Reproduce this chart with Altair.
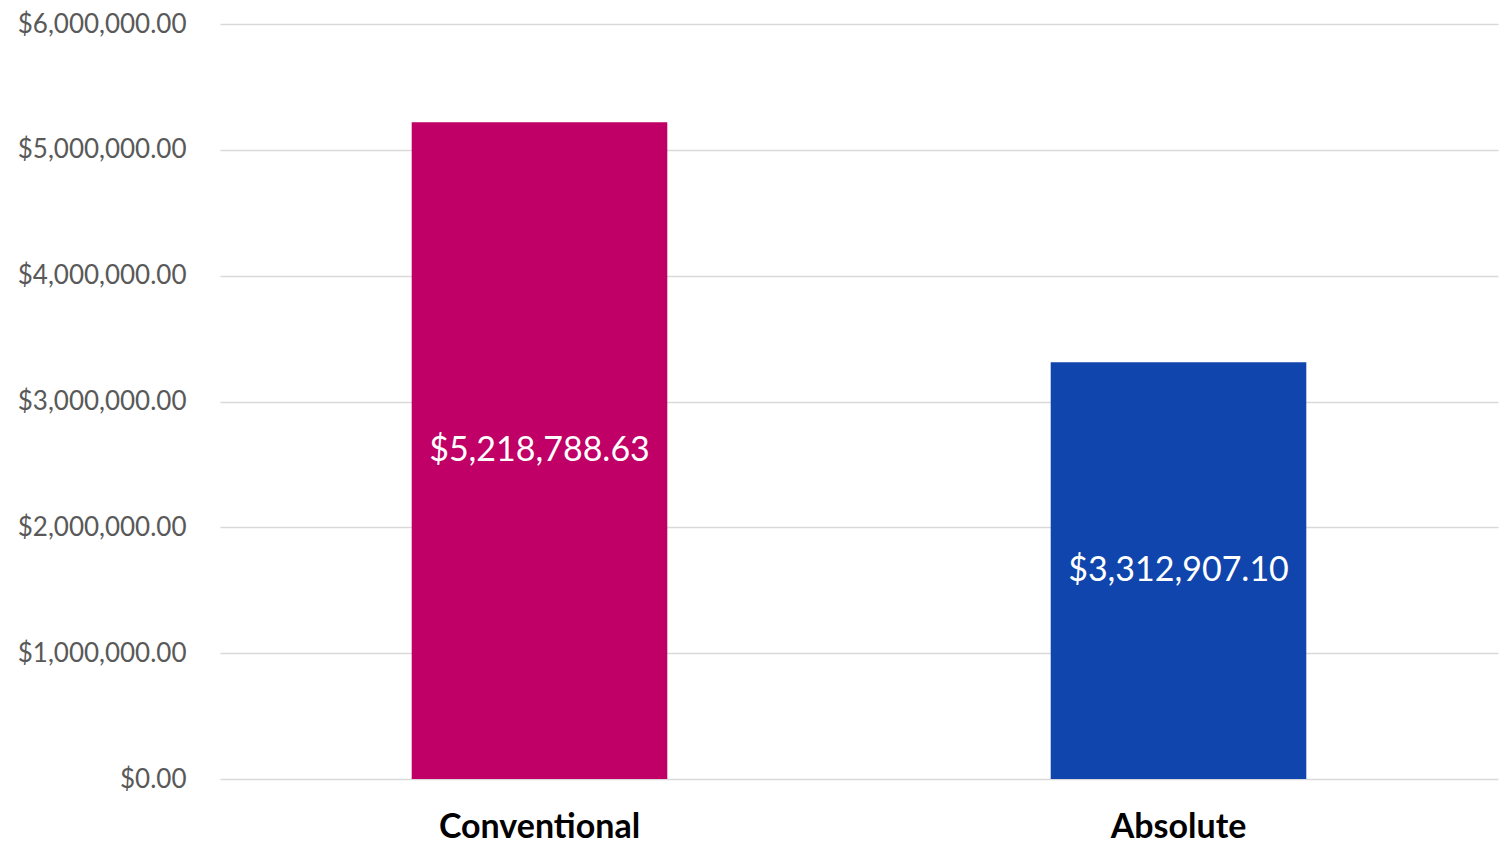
import altair as alt
import pandas as pd

categories = ["Conventional", "Absolute"]
values = [5218788.63, 3312907.10]
colors = ["#C00066", "#0F45AD"]

df = pd.DataFrame({"cat": categories, "value": values, "color": colors})
df["label"] = df["value"].map(lambda v: "${:,.2f}".format(v))

FONT = "Lato"

base = alt.Chart(df).encode(
    x=alt.X("cat:N", sort=categories, title=None,
            scale=alt.Scale(paddingInner=0.6, paddingOuter=0.3),
            axis=alt.Axis(labelFont=FONT, labelFontSize=34, labelFontWeight="bold",
                          labelColor="#000000", labelAngle=0, domain=False, ticks=False,
                          labelPadding=31, labelLimit=0)),
)

bars = base.mark_bar().encode(
    y=alt.Y("value:Q", title=None,
            scale=alt.Scale(domain=[0, 6000000], nice=False),
            axis=alt.Axis(values=[0, 1000000, 2000000, 3000000, 4000000, 5000000, 6000000],
                          format="$,.2f", labelFont=FONT, labelFontSize=26,
                          labelColor="#595959", domain=False, ticks=False,
                          labelPadding=34, gridColor="#D9D9D9", gridWidth=1.5)),
    color=alt.Color("color:N", scale=None),
)

text = base.mark_text(font=FONT, fontSize=34, color="white").encode(
    y=alt.Y("mid:Q"),
    text="label:N",
).transform_calculate(mid="datum.value / 2")

chart = (bars + text).properties(
    width=1278, height=755,
    autosize=alt.AutoSizeParams(type="none"),
    padding={"left": 212, "top": 16, "right": 5, "bottom": 76},
).configure_view(stroke=None)

chart.save("out.html", embed_options={"renderer": "svg", "actions": False})
